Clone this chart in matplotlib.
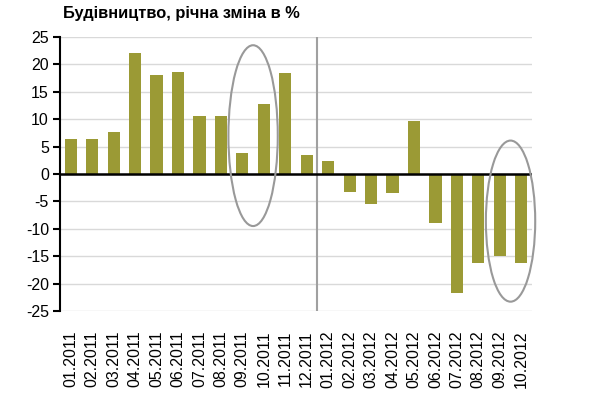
import numpy as np
import matplotlib.pyplot as plt
from matplotlib.patches import Ellipse

plt.rcParams['font.family'] = ['Liberation Sans', 'DejaVu Sans']

months = ['01.2011', '02.2011', '03.2011', '04.2011', '05.2011', '06.2011',
          '07.2011', '08.2011', '09.2011', '10.2011', '11.2011', '12.2011',
          '01.2012', '02.2012', '03.2012', '04.2012', '05.2012', '06.2012',
          '07.2012', '08.2012', '09.2012', '10.2012']
values = [6.4, 6.4, 7.6, 22.1, 18.0, 18.7, 10.5, 10.5, 3.9, 12.8, 18.4, 3.5,
          2.4, -3.2, -5.5, -3.5, 9.7, -9.0, -21.8, -16.3, -15.0, -16.3]
yticks = [-25, -20, -15, -10, -5, 0, 5, 10, 15, 20, 25]

fig = plt.figure(figsize=(5.9, 3.95), dpi=100)
ax = fig.add_axes([0.1017, 0.2127, 0.8, 0.6936])

x = np.arange(len(months))
ax.bar(x, values, width=0.57, color='#9b9a35', zorder=3)

ax.set_xlim(-0.5, len(months) - 0.5)
ax.set_ylim(-25, 25)
ax.set_yticks(yticks)
ax.set_yticklabels([str(v) for v in yticks], fontsize=11.5)
ax.yaxis.grid(True, color='#d9d9d9', linewidth=1, zorder=0)
ax.set_axisbelow(True)

ax.set_xticks(x)
ax.set_xticklabels(months, rotation=90, fontsize=11.5, va='top')
ax.tick_params(axis='x', length=0, pad=14)
ax.tick_params(axis='y', length=5, width=1.5, direction='out', pad=3)

for s in ['top', 'right', 'bottom']:
    ax.spines[s].set_visible(False)
ax.spines['left'].set_linewidth(1.5)

# zero line and year separator
ax.axhline(0, color='black', linewidth=1.8, zorder=4)
ax.axvline(11.5, color='#a0a0a0', linewidth=1.5, zorder=2)

# highlighted ellipses
for cx, cy, w, h in [(8.5, 7.0, 2.3, 33.0), (20.5, -8.6, 2.3, 29.4)]:
    ax.add_patch(Ellipse((cx, cy), w, h, fill=False, edgecolor='#999999',
                         linewidth=1.5, zorder=5, clip_on=False))

fig.text(0.107, 0.967, 'Будівництво, річна зміна в %', fontsize=11.8,
         fontweight='bold', va='center', ha='left')

fig.savefig('out.png', dpi=100)
